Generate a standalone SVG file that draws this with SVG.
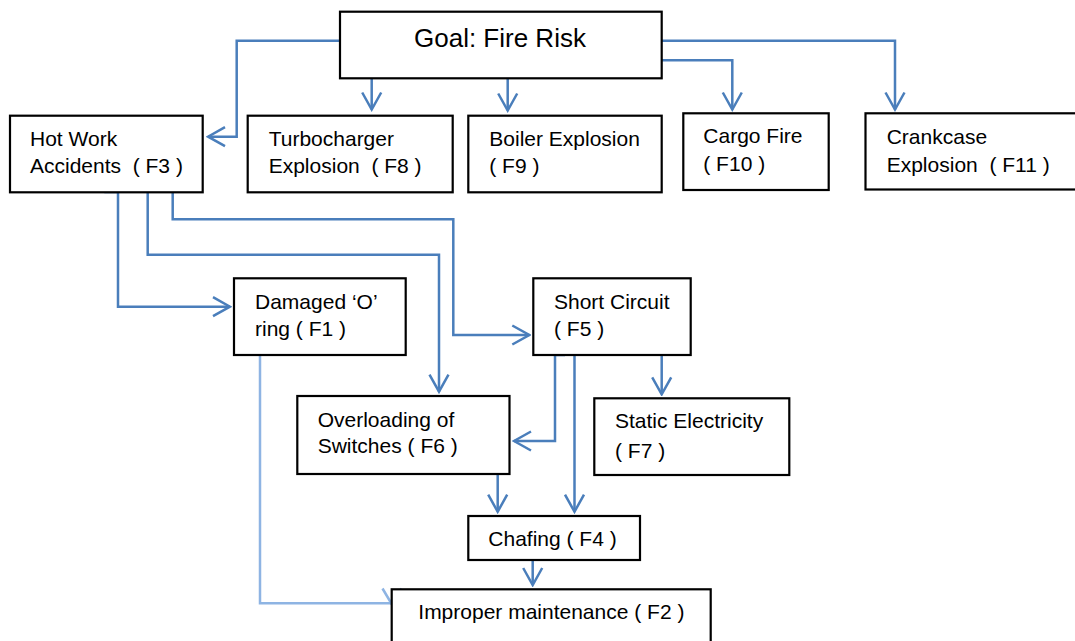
<svg xmlns="http://www.w3.org/2000/svg" width="1075" height="641" viewBox="0 0 1075 641">
  <style>
    .box { fill: #ffffff; stroke: #000000; stroke-width: 2.2; }
    .lbl { font-family: "Liberation Sans", Arial, sans-serif; font-size: 21px; fill: #000000; white-space: pre; }
    .goal { font-family: "Liberation Sans", Arial, sans-serif; font-size: 26px; fill: #000000; }
    .link { fill: none; stroke: #4a7ebb; stroke-width: 2.5; marker-end: url(#arrow); }
    .soft { fill: none; stroke: #8eb4e3; stroke-width: 2.5; }
  </style>
  <defs>
    <marker id="arrow" markerUnits="userSpaceOnUse" viewBox="-19 -11 21 22" refX="0" refY="0" markerWidth="21" markerHeight="22" orient="auto">
      <path d="M-17,-9.5 L0,0 L-17,9.5" fill="none" stroke="#4a7ebb" stroke-width="2.5"/>
    </marker>
  </defs>
  <rect width="1075" height="641" fill="#ffffff"/>

  <!-- connectors -->
  <g id="connectors">
    <path class="link" d="M340,40.7 H236.7 V136.7 H208"/>
    <path class="link" d="M371.7,78.3 V109.5"/>
    <path class="link" d="M507.7,78.3 V110.5"/>
    <path class="link" d="M661.7,60.3 H732.3 V109.5"/>
    <path class="link" d="M661.7,40.7 H895 V109.5"/>
    <path class="link" d="M104.3,192 H118 V306.7 H230"/>
    <path class="link" d="M147.7,192 V254.7 H439 V391.7"/>
    <path class="link" d="M172.7,192 V219.3 H453.3 V335 H529.3"/>
    <path class="link" d="M565,355 H555 V441 H514"/>
    <path class="link" d="M574.5,355 V511.7"/>
    <path class="link" d="M661.7,355 V394.3"/>
    <path class="link" d="M497.7,474 V511.7"/>
    <path class="link" d="M532.7,560 V585"/>
    <path class="soft" d="M260,355 V603.3 H391.7"/>
    <path class="soft" d="M382.5,588.5 L391.7,604 L401.5,588.5"/>
  </g>

  <!-- nodes -->
  <g id="goal">
    <rect class="box" x="340" y="11.7" width="321.7" height="66.6"/>
    <text class="goal" x="414" y="47">Goal: Fire Risk</text>
  </g>
  <g id="f3">
    <rect class="box" x="10" y="115.7" width="192.7" height="76.6"/>
    <text class="lbl" x="30" y="145.7">Hot Work</text>
    <text class="lbl" x="30" y="172.7">Accidents  ( F3 )</text>
  </g>
  <g id="f8">
    <rect class="box" x="247.7" y="115.7" width="205" height="76.6"/>
    <text class="lbl" x="268.7" y="145.7">Turbocharger</text>
    <text class="lbl" x="268.7" y="172.7">Explosion  ( F8 )</text>
  </g>
  <g id="f9">
    <rect class="box" x="468.3" y="115.7" width="193.4" height="76.6"/>
    <text class="lbl" x="489.3" y="145.7">Boiler Explosion</text>
    <text class="lbl" x="489.3" y="172.7">( F9 )</text>
  </g>
  <g id="f10">
    <rect class="box" x="683.3" y="113.3" width="145.4" height="76.7"/>
    <text class="lbl" x="703.3" y="143.3">Cargo Fire</text>
    <text class="lbl" x="703.3" y="171">( F10 )</text>
  </g>
  <g id="f11">
    <rect class="box" x="865.5" y="113.3" width="212" height="76.2"/>
    <text class="lbl" x="886.7" y="144.3">Crankcase</text>
    <text class="lbl" x="886.7" y="171.7">Explosion  ( F11 )</text>
  </g>
  <g id="f1">
    <rect class="box" x="234" y="278.3" width="171.7" height="76.7"/>
    <text class="lbl" x="255" y="309">Damaged ‘O’</text>
    <text class="lbl" x="255" y="336">ring ( F1 )</text>
  </g>
  <g id="f5">
    <rect class="box" x="533.3" y="278.3" width="157.4" height="76.7"/>
    <text class="lbl" x="554" y="309">Short Circuit</text>
    <text class="lbl" x="554" y="336">( F5 )</text>
  </g>
  <g id="f6">
    <rect class="box" x="297.3" y="396" width="212.2" height="78"/>
    <text class="lbl" x="317.7" y="426.7">Overloading of</text>
    <text class="lbl" x="317.7" y="453.3">Switches ( F6 )</text>
  </g>
  <g id="f7">
    <rect class="box" x="594.3" y="398.3" width="195" height="76.7"/>
    <text class="lbl" x="615" y="427.7">Static Electricity</text>
    <text class="lbl" x="615" y="458.3">( F7 )</text>
  </g>
  <g id="f4">
    <rect class="box" x="468.3" y="516" width="171.7" height="44"/>
    <text class="lbl" x="488.3" y="545.7">Chafing ( F4 )</text>
  </g>
  <g id="f2">
    <rect class="box" x="391.7" y="589.3" width="319" height="60"/>
    <text class="lbl" x="418.3" y="619.3">Improper maintenance ( F2 )</text>
  </g>
</svg>
